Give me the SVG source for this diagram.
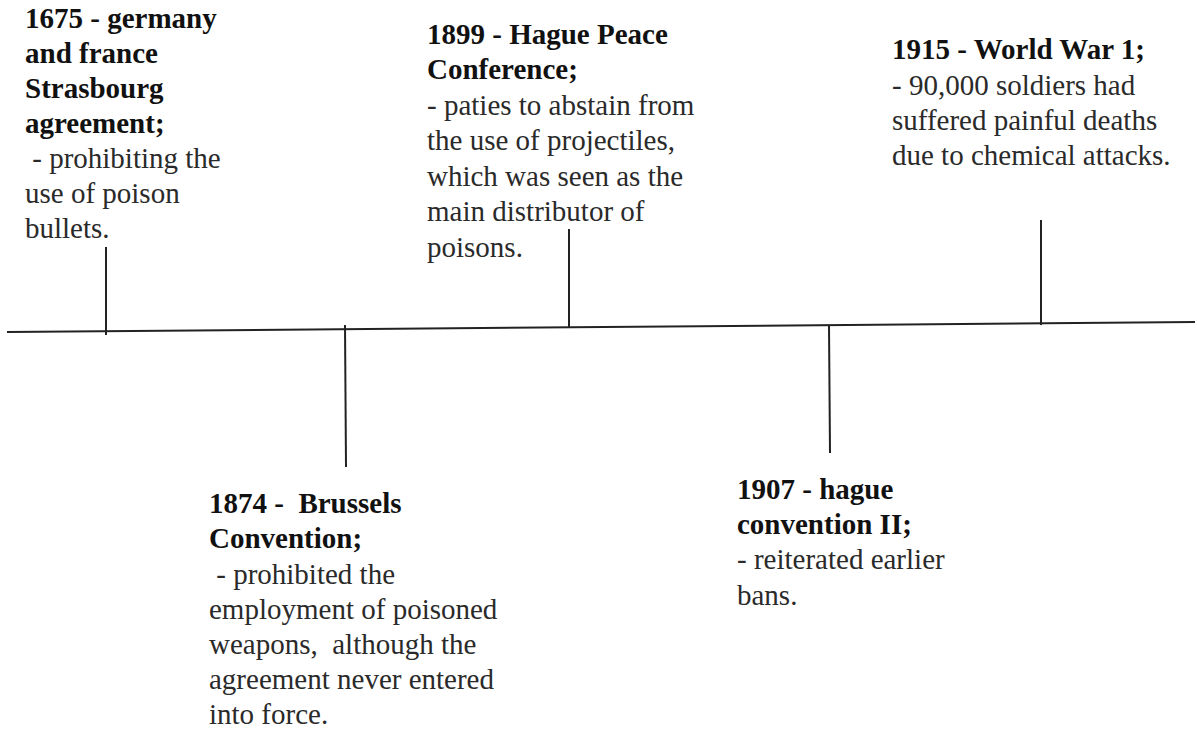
<svg xmlns="http://www.w3.org/2000/svg" width="1197" height="730" viewBox="0 0 1197 730">
<style>
.ln{stroke:#222;stroke-width:2;fill:none;stroke-linecap:butt}
text{font-family:'Liberation Serif','Tinos','Times New Roman','Nimbus Roman','DejaVu Serif',serif;font-size:29px;fill:#2a2a2a}
.b{font-weight:bold;fill:#111}
</style>
<rect width="1197" height="730" fill="#fff"/>
<g id="connectors">
<line class="ln" x1="7" y1="332" x2="1195" y2="322"/>
<line class="ln" x1="106" y1="247" x2="106" y2="335"/>
<line class="ln" x1="345" y1="325" x2="346" y2="467"/>
<line class="ln" x1="569" y1="229" x2="569" y2="328"/>
<line class="ln" x1="829" y1="326" x2="830" y2="453"/>
<line class="ln" x1="1041" y1="220" x2="1041" y2="325"/>
</g>
<g id="e1675">
<text class="b" x="25" y="28">1675 - germany</text>
<text class="b" x="25" y="63">and france</text>
<text class="b" x="25" y="98">Strasbourg</text>
<text class="b" x="25" y="133">agreement;</text>
<text x="25" y="168" xml:space="preserve"> - prohibiting the</text>
<text x="25" y="203">use of poison</text>
<text x="25" y="238">bullets.</text>
</g>
<g id="e1874">
<text class="b" x="209" y="513" xml:space="preserve">1874 -  Brussels</text>
<text class="b" x="209" y="548">Convention;</text>
<text x="209" y="584" xml:space="preserve"> - prohibited the</text>
<text x="209" y="619">employment of poisoned</text>
<text x="209" y="654" xml:space="preserve">weapons,  although the</text>
<text x="209" y="689">agreement never entered</text>
<text x="209" y="724">into force.</text>
</g>
<g id="e1899">
<text class="b" x="427" y="44">1899 - Hague Peace</text>
<text class="b" x="427" y="79">Conference;</text>
<text x="427" y="115">- paties to abstain from</text>
<text x="427" y="150">the use of projectiles,</text>
<text x="427" y="186">which was seen as the</text>
<text x="427" y="221">main distributor of</text>
<text x="427" y="257">poisons.</text>
</g>
<g id="e1907">
<text class="b" x="737" y="499">1907 - hague</text>
<text class="b" x="737" y="534">convention II;</text>
<text x="737" y="569">- reiterated earlier</text>
<text x="737" y="605">bans.</text>
</g>
<g id="e1915">
<text class="b" x="892" y="59">1915 - World War 1;</text>
<text x="892" y="95">- 90,000 soldiers had</text>
<text x="892" y="130">suffered painful deaths</text>
<text x="892" y="165">due to chemical attacks.</text>
</g>
</svg>
